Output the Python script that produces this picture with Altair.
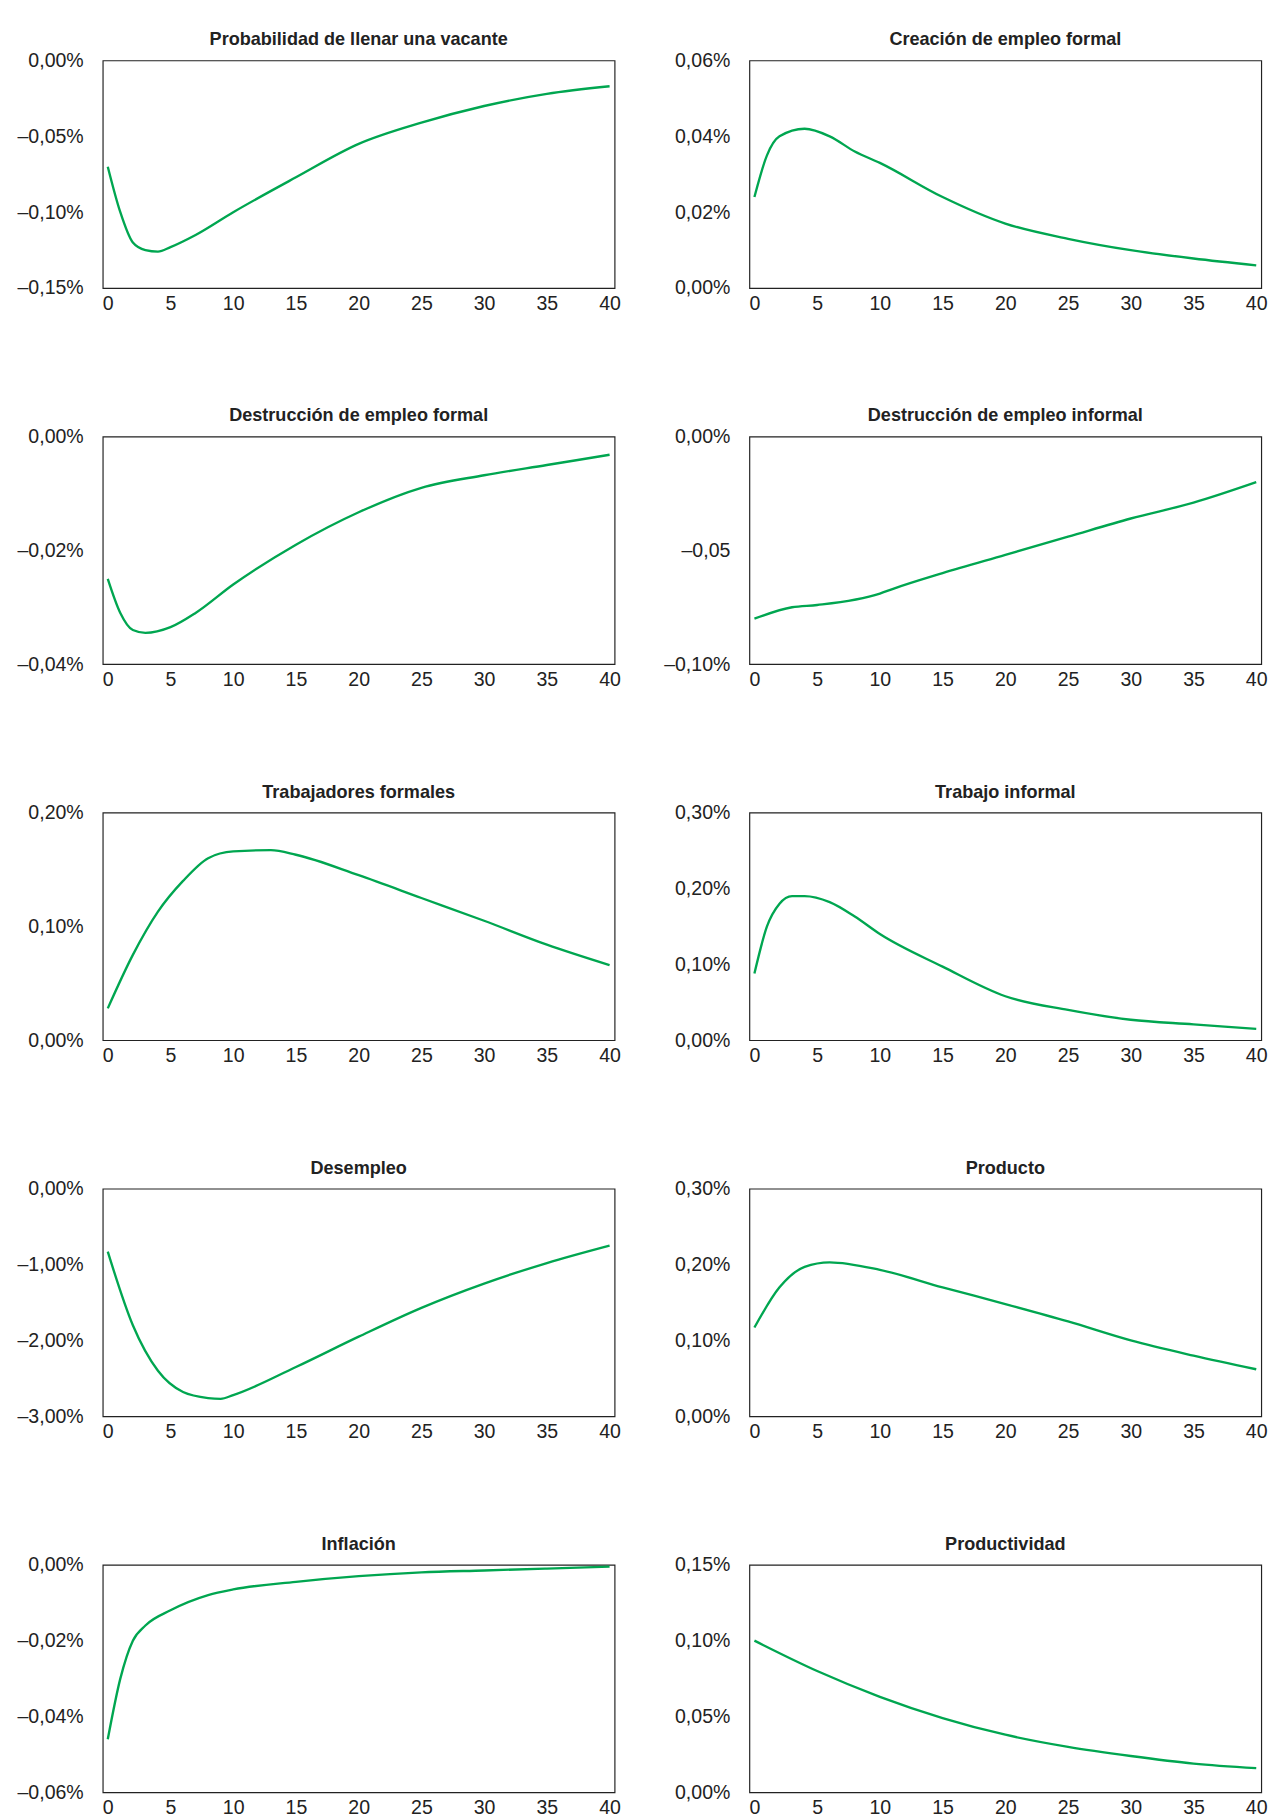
import altair as alt
import pandas as pd

titles = [
    "Probabilidad de llenar una vacante", "Creación de empleo formal",
    "Destrucción de empleo formal", "Destrucción de empleo informal",
    "Trabajadores formales", "Trabajo informal",
    "Desempleo", "Producto",
    "Inflación", "Productividad",
]
xs = [
    [0, 1, 2, 3, 4, 5, 7, 10, 15, 20, 25, 30, 35, 40],
    [0, 1, 2, 4, 6, 8, 10, 15, 20, 25, 30, 35, 40],
    [0, 1, 2, 3, 5, 7, 10, 15, 20, 25, 30, 35, 40],
    [0, 3, 5, 10, 11, 15, 20, 25, 30, 35, 40],
    [0, 2, 4, 6, 8, 10, 13, 15, 20, 25, 30, 35, 40],
    [0, 1, 2, 3, 4, 6, 8, 10, 15, 20, 25, 30, 35, 40],
    [0, 2, 4, 6, 8, 9, 10, 15, 20, 25, 30, 35, 40],
    [0, 2, 4, 6, 10, 15, 20, 25, 30, 35, 40],
    [0, 1, 2, 3, 5, 8, 10, 15, 20, 25, 30, 35, 40],
    [0, 5, 10, 15, 20, 25, 30, 35, 40],
]
ys = [
    [-0.07, -0.1, -0.12, -0.125, -0.126, -0.123, -0.115, -0.1, -0.077, -0.055, -0.041, -0.03, -0.022, -0.017],
    [0.024, 0.035, 0.04, 0.042, 0.04, 0.036, 0.033, 0.024, 0.017, 0.013, 0.01, 0.0078, 0.006],
    [-0.025, -0.031, -0.034, -0.0345, -0.0335, -0.031, -0.026, -0.019, -0.0133, -0.009, -0.0068, -0.005, -0.0032],
    [-0.08, -0.075, -0.074, -0.069, -0.067, -0.06, -0.052, -0.044, -0.036, -0.029, -0.02],
    [0.028, 0.075, 0.113, 0.14, 0.16, 0.166, 0.167, 0.163, 0.145, 0.125, 0.105, 0.084, 0.066],
    [0.088, 0.15, 0.18, 0.19, 0.19, 0.182, 0.163, 0.14, 0.097, 0.058, 0.04, 0.027, 0.021, 0.015],
    [-0.83, -1.8, -2.4, -2.68, -2.76, -2.77, -2.72, -2.35, -1.95, -1.57, -1.25, -0.98, -0.75],
    [0.117, 0.17, 0.197, 0.203, 0.193, 0.17, 0.148, 0.125, 0.1, 0.08, 0.062],
    [-0.046, -0.03, -0.02, -0.016, -0.012, -0.008, -0.0065, -0.0045, -0.003, -0.002, -0.0015, -0.001, -0.0005],
    [0.1, 0.08, 0.063, 0.049, 0.038, 0.03, 0.024, 0.019, 0.016],
]
y_ticks = [
    [-0.15, -0.1, -0.05, 0.0],
    [0.0, 0.02, 0.04, 0.06],
    [-0.04, -0.02, 0.0],
    [-0.1, -0.05, 0.0],
    [0.0, 0.1, 0.2],
    [0.0, 0.1, 0.2, 0.3],
    [-3.0, -2.0, -1.0, 0.0],
    [0.0, 0.1, 0.2, 0.3],
    [-0.06, -0.04, -0.02, 0.0],
    [0.0, 0.05, 0.1, 0.15],
]

FONT = "Liberation Sans"
GREEN = "#00a650"
base_expr = "replace(replace(format(datum.value, '.2f'), '.', ','), '\u2212', '\u2013')"

panels = []
for i, t in enumerate(titles):
    df = pd.DataFrame({"x": xs[i], "y": ys[i]})
    ticks = y_ticks[i]
    expr = base_expr + " + '%'"
    if i == 3:
        expr = "datum.value == -0.05 ? '\u20130,05' : " + base_expr + " + '%'"
    p = alt.Chart(df).mark_line(color=GREEN, strokeWidth=2.4, interpolate="monotone").encode(
        x=alt.X("x:Q", scale=alt.Scale(domain=[-0.4, 40.4], nice=False),
                axis=alt.Axis(values=list(range(0, 41, 5)), title=None, grid=False,
                              ticks=False, domain=False, labelPadding=6)),
        y=alt.Y("y:Q", scale=alt.Scale(domain=[min(ticks), max(ticks)], nice=False),
                axis=alt.Axis(values=ticks, title=None, grid=False, ticks=False,
                              domain=False, labelPadding=20, labelExpr=expr)),
    ).properties(
        width=524, height=233,
        title=alt.TitleParams(t, fontSize=18.5, font=FONT, fontWeight="bold", offset=2),
    )
    panels.append(p)

chart = alt.concat(*panels, columns=2, spacing={"column": 42, "row": 93}).configure_view(
    stroke="#222222", strokeWidth=1.2
).configure_axis(
    labelFont=FONT, labelFontSize=20, labelColor="#222222"
).configure_title(color="#222222").properties(padding={"left": 8, "top": 0, "right": 4, "bottom": 0})

chart.save("out.html", embed_options={"renderer": "svg", "actions": False})
